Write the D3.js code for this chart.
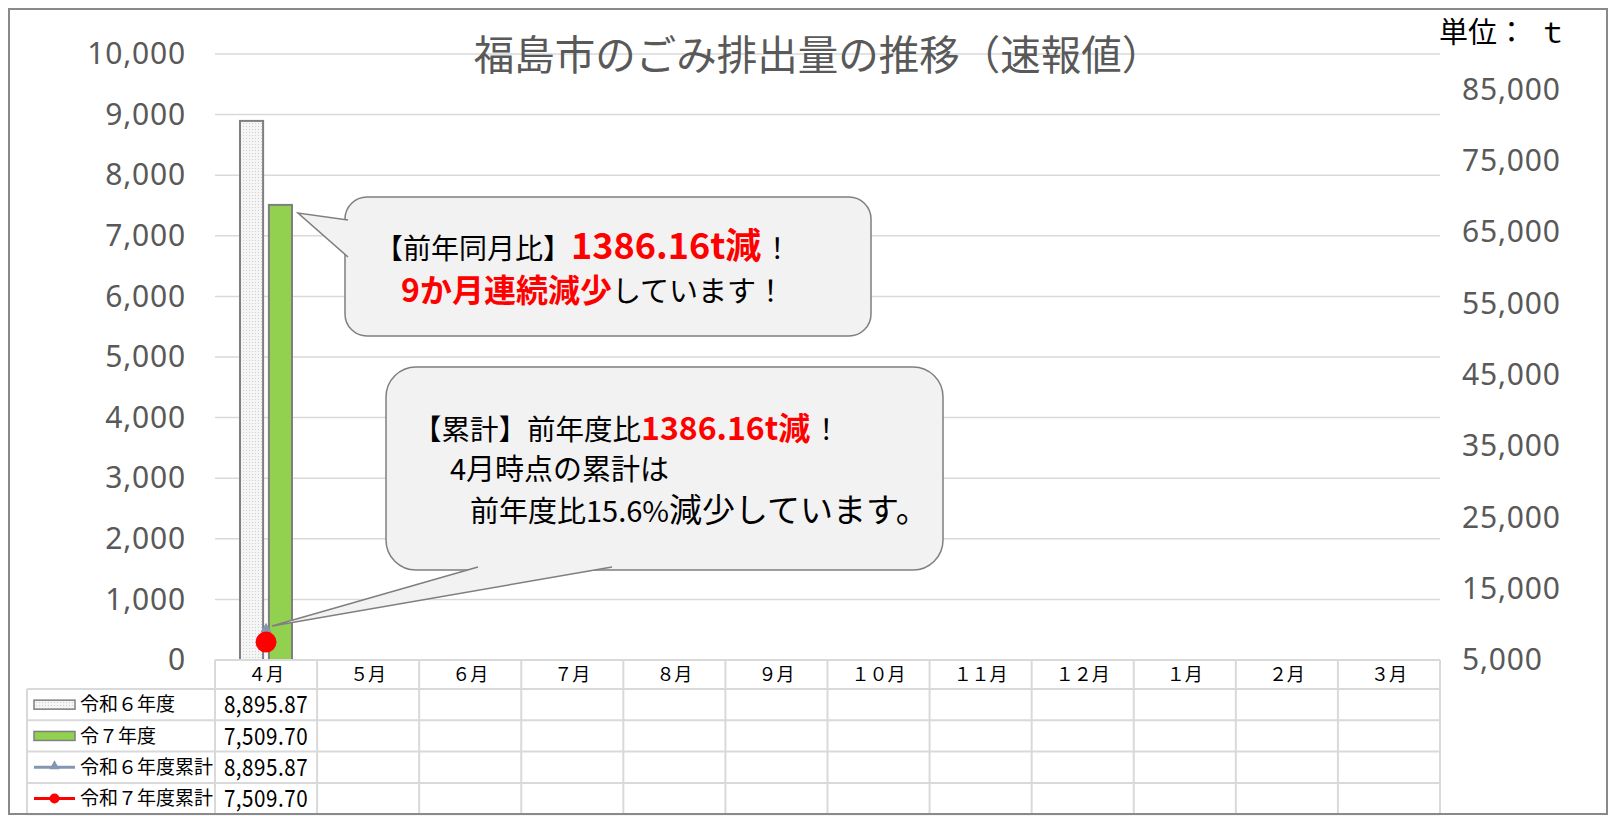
<!DOCTYPE html>
<html>
<head>
<meta charset="utf-8">
<script src="https://cdn.jsdelivr.net/npm/d3@7"></script>
<style>
body{margin:0;background:#fff}
</style>
</head>
<body>
<div id="chart"></div>
<script>
// months of the fiscal year (table header / x categories)
const months = ["４月","５月","６月","７月","８月","９月","１０月","１１月","１２月","１月","２月","３月"]
// monthly amounts (t) -- only April reported so far
const r6Monthly = [8895.87]
const r7Monthly = [7509.70]
// cumulative amounts (t), right axis
const r6Cumulative = [8895.87]
const r7Cumulative = [7509.70]
const seriesNames = ["令和６年度","令７年度","令和６年度累計","令和７年度累計"]
const leftTicks = [0,1000,2000,3000,4000,5000,6000,7000,8000,9000,10000]
const rightTicks = [5000,15000,25000,35000,45000,55000,65000,75000,85000]

const W = 1614, H = 816
const PLOT = {LEFT:215, RIGHT:1440, TOP:54, BOTTOM:660}
const JP = '"Noto Sans CJK JP", sans-serif'
const GRID = '#d9d9d9'

const svg = d3.select('#chart').append('svg')
    .attr('width', W)
    .attr('height', H)

const defs = svg.append('defs')
const pat = defs.append('pattern')
    .attr('id', 'dots').attr('width', 3).attr('height', 3)
    .attr('patternUnits', 'userSpaceOnUse')
pat.append('rect').attr('width', 3).attr('height', 3).attr('fill', '#f5f5f5')
pat.append('rect').attr('width', 1).attr('height', 1).attr('fill', '#cfcfcf')

svg.append('rect').attr('x', 9).attr('y', 9).attr('width', 1598).attr('height', 805)
    .attr('fill', '#fff')

const x = d3.scaleBand().domain(months).range([PLOT.LEFT, PLOT.RIGHT])
const xs = d3.scaleBand().domain(['r6','r7']).range([25, 77]).paddingInner(0.2)
const yL = d3.scaleLinear().domain([0, 10000]).range([PLOT.BOTTOM, PLOT.TOP])
const yR = d3.scaleLinear().domain([5000, 90000]).range([PLOT.BOTTOM, PLOT.TOP])

// gridlines
svg.append('g').selectAll('line')
    .data(leftTicks.filter(d => d > 0)).enter()
    .append('line')
    .attr('x1', PLOT.LEFT).attr('x2', PLOT.RIGHT)
    .attr('y1', d => yL(d)).attr('y2', d => yL(d))
    .attr('stroke', GRID).attr('stroke-width', 1.5)

// title
svg.append('text')
    .attr('x', 818).attr('y', 70)
    .attr('text-anchor', 'middle')
    .attr('font-family', JP).attr('font-size', 40.5)
    .attr('fill', '#595959')
    .text('福島市のごみ排出量の推移（速報値）')

const unit = svg.append('text')
    .attr('x', 1439).attr('y', 43)
    .attr('font-family', JP).attr('font-size', 29)
    .attr('fill', '#000')
unit.append('tspan').text('単位：')
unit.append('tspan').attr('dx', 12).text('ｔ')

// axes (labels only)
const axL = svg.append('g').attr('transform', 'translate(186,0)')
    .call(d3.axisLeft(yL).tickValues(leftTicks).tickSize(0).tickPadding(0).tickFormat(d3.format(',')))
const axR = svg.append('g').attr('transform', 'translate(1462,0)')
    .call(d3.axisRight(yR).tickValues(rightTicks).tickSize(0).tickPadding(0).tickFormat(d3.format(',')))
;[axL, axR].forEach(a => {
  a.select('.domain').remove()
  a.selectAll('text')
    .attr('font-family', '"Noto Sans", sans-serif')
    .attr('font-size', 30)
    .attr('letter-spacing', 0.8)
    .attr('fill', '#595959')
})

// bars
svg.append('g').selectAll('rect')
    .data(r6Monthly).enter()
    .append('rect')
    .attr('x', (d,i) => x(months[i]) + xs('r6'))
    .attr('y', d => yL(d))
    .attr('width', xs.bandwidth())
    .attr('height', d => yL(0) - yL(d))
    .attr('fill', 'url(#dots)')
    .attr('stroke', '#7f7f7f').attr('stroke-width', 2)

svg.append('g').selectAll('rect')
    .data(r7Monthly).enter()
    .append('rect')
    .attr('x', (d,i) => x(months[i]) + xs('r7'))
    .attr('y', d => yL(d))
    .attr('width', xs.bandwidth())
    .attr('height', d => yL(0) - yL(d))
    .attr('fill', '#92d050')
    .attr('stroke', '#7f7f7f').attr('stroke-width', 2)

// cumulative lines
const cx = (d,i) => x(months[i]) + x.bandwidth()/2
const line6 = d3.line().x(cx).y(d => yR(d))
svg.append('path').datum(r6Cumulative)
    .attr('d', line6).attr('fill', 'none')
    .attr('stroke', '#8497b0').attr('stroke-width', 3)
svg.append('g').selectAll('path')
    .data(r6Cumulative).enter()
    .append('path')
    .attr('d', d3.symbol(d3.symbolTriangle).size(55))
    .attr('transform', (d,i) => `translate(${cx(d,i)},${yR(d) - 3})`)
    .attr('fill', '#8497b0')

svg.append('path').datum(r7Cumulative)
    .attr('d', line6).attr('fill', 'none')
    .attr('stroke', '#ff0000').attr('stroke-width', 3)
svg.append('g').selectAll('circle')
    .data(r7Cumulative).enter()
    .append('circle')
    .attr('cx', cx).attr('cy', d => yR(d))
    .attr('r', 10.5)
    .attr('fill', '#ff0000')

// callouts
function callout(box, tail) {
  const g = svg.append('g')
  g.append('rect')
    .attr('x', box.x).attr('y', box.y).attr('width', box.w).attr('height', box.h)
    .attr('rx', box.r).attr('ry', box.r)
    .attr('fill', '#f2f2f2').attr('stroke', '#7f7f7f').attr('stroke-width', 1.5)
  g.append('path')
    .attr('d', `M${tail[0][0]},${tail[0][1]}L${tail[1][0]},${tail[1][1]}L${tail[2][0]},${tail[2][1]}`)
    .attr('fill', '#f2f2f2').attr('stroke', '#7f7f7f').attr('stroke-width', 1.5)
  return g
}
function textLine(g, x0, y0, segs) {
  let cur = x0
  segs.forEach(s => {
    const t = g.append('text')
      .attr('x', cur).attr('y', y0)
      .attr('font-family', JP)
      .attr('font-size', s.size)
      .attr('font-weight', s.bold ? 700 : 400)
      .attr('fill', s.red ? '#ff0000' : '#000')
      .text(s.t)
    cur += t.node().getComputedTextLength() + (s.gap || 0)
  })
}

const c1 = callout({x:345, y:197, w:526, h:139, r:22}, [[348,220],[298,213],[348,257]])
textLine(c1, 375, 259, [
  {t:'【前年同月比】', size:28},
  {t:'1386.16t減', size:36, bold:true, red:true, gap:2},
  {t:'！', size:28}
])
textLine(c1, 401, 302, [
  {t:'9か月連続減少', size:32, bold:true, red:true},
  {t:'しています！', size:29}
])

const c2 = callout({x:386, y:367, w:557, h:203, r:30}, [[478,567],[272,626],[612,567]])
textLine(c2, 413, 440, [
  {t:'【累計】前年度比', size:28.5},
  {t:'1386.16t減', size:32, bold:true, red:true, gap:2},
  {t:'！', size:28}
])
textLine(c2, 450, 480, [
  {t:'4月時点の累計は', size:29}
])
textLine(c2, 470, 522, [
  {t:'前年度比15.6%', size:29},
  {t:'減少しています。', size:33}
])

// data table
const rowY = [660, 689, 720.3, 751.6, 782.9, 814.2]
const tbl = svg.append('g')
tbl.append('line').attr('x1', PLOT.LEFT).attr('x2', PLOT.RIGHT)
    .attr('y1', rowY[0]).attr('y2', rowY[0])
    .attr('stroke', GRID).attr('stroke-width', 2)
tbl.selectAll('.hl').data(rowY.slice(1)).enter()
    .append('line').attr('class', 'hl')
    .attr('x1', 27).attr('x2', PLOT.RIGHT)
    .attr('y1', d => d).attr('y2', d => d)
    .attr('stroke', GRID).attr('stroke-width', 2)
tbl.selectAll('.vl').data(months.map(m => x(m)).concat([PLOT.RIGHT])).enter()
    .append('line').attr('class', 'vl')
    .attr('x1', d => d).attr('x2', d => d)
    .attr('y1', rowY[0]).attr('y2', rowY[5])
    .attr('stroke', GRID).attr('stroke-width', 2)
tbl.append('line').attr('x1', 27).attr('x2', 27)
    .attr('y1', rowY[1]).attr('y2', rowY[5])
    .attr('stroke', GRID).attr('stroke-width', 2)

tbl.selectAll('.mh').data(months).enter()
    .append('text').attr('class', 'mh')
    .attr('x', d => x(d) + x.bandwidth()/2)
    .attr('y', (rowY[0] + rowY[1]) / 2)
    .attr('dy', '0.36em')
    .attr('text-anchor', 'middle')
    .attr('font-family', JP).attr('font-size', 18)
    .attr('fill', '#000')
    .text(d => d)

const rowMid = i => (rowY[i+1] + rowY[i+2]) / 2
tbl.selectAll('.ln').data(seriesNames).enter()
    .append('text').attr('class', 'ln')
    .attr('x', 80).attr('y', (d,i) => rowMid(i))
    .attr('dy', '0.36em')
    .attr('font-family', JP).attr('font-size', 19)
    .attr('fill', '#000')
    .text(d => d)

// legend keys
tbl.append('rect').attr('x', 34).attr('y', rowMid(0) - 4.5).attr('width', 41).attr('height', 9)
    .attr('fill', 'url(#dots)').attr('stroke', '#7f7f7f').attr('stroke-width', 1.5)
tbl.append('rect').attr('x', 34).attr('y', rowMid(1) - 4.5).attr('width', 41).attr('height', 9)
    .attr('fill', '#92d050').attr('stroke', '#7f7f7f').attr('stroke-width', 1.5)
tbl.append('line').attr('x1', 34).attr('x2', 75).attr('y1', rowMid(2)).attr('y2', rowMid(2))
    .attr('stroke', '#8497b0').attr('stroke-width', 3)
tbl.append('path').attr('d', d3.symbol(d3.symbolTriangle).size(45))
    .attr('transform', `translate(54.5,${rowMid(2) - 1})`).attr('fill', '#8497b0')
tbl.append('line').attr('x1', 34).attr('x2', 75).attr('y1', rowMid(3)).attr('y2', rowMid(3))
    .attr('stroke', '#ff0000').attr('stroke-width', 3)
tbl.append('circle').attr('cx', 54.5).attr('cy', rowMid(3)).attr('r', 5).attr('fill', '#ff0000')

// values (condensed like the original table font)
const fmt = d3.format(',.2f')
;[r6Monthly, r7Monthly, r6Cumulative, r7Cumulative].forEach((arr, r) => {
  tbl.selectAll('.v' + r).data(arr).enter()
    .append('text').attr('class', 'v' + r)
    .attr('transform', (d,i) => `translate(${x(months[i]) + x.bandwidth()/2},${rowMid(r)}) scale(0.86,1)`)
    .attr('dy', '0.36em')
    .attr('text-anchor', 'middle')
    .attr('font-family', JP).attr('font-size', 24)
    .attr('letter-spacing', 0.6)
    .attr('fill', '#000')
    .text(d => fmt(d))
})

// outer frame
svg.append('rect').attr('x', 9).attr('y', 9).attr('width', 1598).attr('height', 805)
    .attr('fill', 'none').attr('stroke', '#898989').attr('stroke-width', 2)
</script>
</body>
</html>
